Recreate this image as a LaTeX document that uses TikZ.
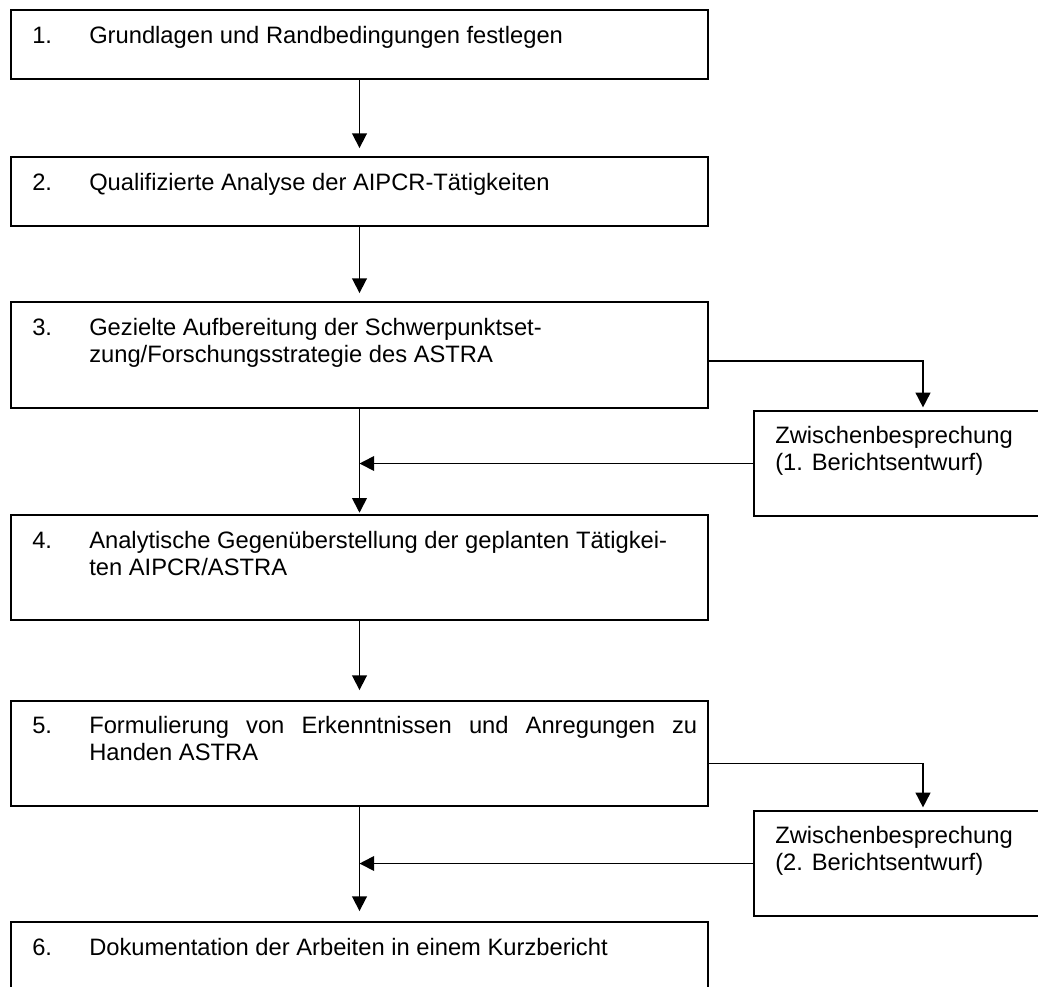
\documentclass[tikz,border=0pt]{standalone}
\usepackage{fontspec}
\setmainfont{Liberation Sans}
\usetikzlibrary{arrows.meta,fit}
\tikzset{
  box/.style={draw, line width=1.4pt, inner sep=0pt, rectangle},
  lbl/.style={anchor=base west, inner sep=0pt, font=\fontsize{17.8}{20.3}\selectfont},
  arr/.style={line width=1.3pt, -{Triangle[length=11pt,width=11pt]}}
}
\begin{document}
\begin{tikzpicture}[x=0.75pt,y=-0.75pt]
\useasboundingbox (0,0) rectangle (1038,986);
\clip (0,0) rectangle (1038,986);
% boxes
\node[box, fit={(11,10) (708,79)}] (b1) {};
\node[box, fit={(11,157) (708,226)}] (b2) {};
\node[box, fit={(11,302) (708,408)}] (b3) {};
\node[box, fit={(11,515) (708,620)}] (b4) {};
\node[box, fit={(11,701) (708,806)}] (b5) {};
\node[box, fit={(11,922) (708,1040)}] (b6) {};
\node[box, fit={(754,411) (1092,516)}] (r1) {};
\node[box, fit={(754,811) (1092,916)}] (r2) {};
% texts
\node[lbl] (n1) at (32,43) {1.};
\node[lbl] (t1) at (89,43) {Grundlagen und Randbedingungen festlegen};
\node[lbl] (n2) at (32,190) {2.};
\node[lbl] (t2) at (89,190) {Qualifizierte Analyse der AIPCR-Tätigkeiten};
\node[lbl] (n3) at (32,335) {3.};
\node[lbl] (t3) at (89,335) {\parbox[t]{460pt}{Gezielte Aufbereitung der Schwerpunktset-\\zung/Forschungsstrategie des ASTRA}};
\node[lbl] (n4) at (32,548) {4.};
\node[lbl] (t4) at (89,548) {\parbox[t]{470pt}{Analytische Gegenüberstellung der geplanten Tätigkei-\\ten AIPCR/ASTRA}};
\node[lbl] (n5) at (32,733) {5.};
\node[lbl] (t5) at (89,733) {\parbox[t]{470pt}{\makebox[456pt][s]{Formulierung von Erkenntnissen und Anregungen zu}\\Handen ASTRA}};
\node[lbl] (n6) at (32,955) {6.};
\node[lbl] (t6) at (89,955) {Dokumentation der Arbeiten in einem Kurzbericht};
\node[lbl] (tr1) at (775,443) {\parbox[t]{220pt}{Zwischenbesprechung\\(1. Berichtsentwurf)}};
\node[lbl] (tr2) at (775,843) {\parbox[t]{220pt}{Zwischenbesprechung\\(2. Berichtsentwurf)}};
% connectors
\draw[arr, shorten >=6pt] (b1.south) -- (b2.north);
\draw[arr, shorten >=6pt] (b2.south) -- (b3.north);
\draw[arr, shorten >=2pt] ([yshift=-4.5pt]b3.east) -| (r1.north);
\draw[arr] (r1.west) -- (r1.west -| b3.south);
\draw[arr, shorten >=1pt] (b3.south) -- (b4.north);
\draw[arr, shorten >=7.5pt] (b4.south) -- (b5.north);
\draw[arr, shorten >=2pt] ([yshift=-7.5pt]b5.east) -| (r2.north);
\draw[arr] (r2.west) -- (r2.west -| b5.south);
\draw[arr, shorten >=7.5pt] (b5.south) -- (b6.north);
\end{tikzpicture}
\end{document}
